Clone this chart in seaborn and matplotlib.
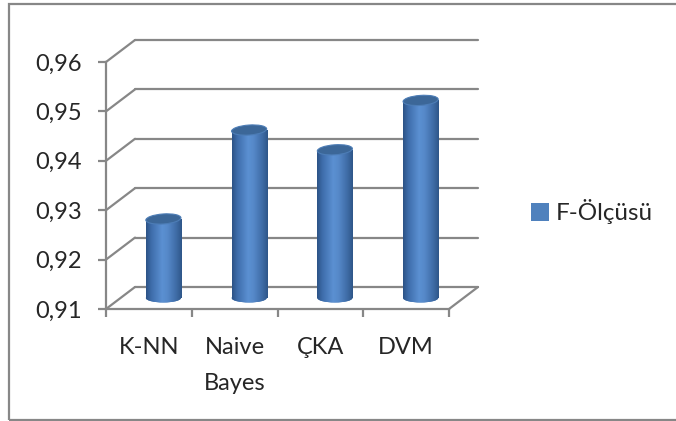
import numpy as np
import matplotlib
matplotlib.use("Agg")
import matplotlib.pyplot as plt
import matplotlib.transforms as mtransforms
from matplotlib.patches import Ellipse, Rectangle, Patch
from matplotlib.lines import Line2D
from matplotlib.colors import LinearSegmentedColormap
import seaborn as sns

# ---- data -------------------------------------------------------------
methods = ["K-NN", "Naive\nBayes", "ÇKA", "DVM"]
f_scores = [0.926, 0.944, 0.940, 0.950]
y_ticks = [0.91, 0.92, 0.93, 0.94, 0.95, 0.96]
y_tick_labels = ["0,91", "0,92", "0,93", "0,94", "0,95", "0,96"]
series_name = "F-Ölçüsü"

# ---- style ------------------------------------------------------------
sns.set_style("white")
plt.rcParams["font.family"] = ["Lato", "DejaVu Sans"]
FS = 17
GREY = "#878787"
BLUE = "#4f81bd"

W, H, DPI = 676, 421, 100
fig = plt.figure(figsize=(W / DPI, H / DPI), dpi=DPI)

# front plane of the 3-D box (pixels from top-left)
px0, px1, py0, py1 = 106, 449, 62, 309
ax = fig.add_axes([px0 / W, 1 - py1 / H, (px1 - px0) / W, (py1 - py0) / H])
ax.patch.set_alpha(0)

floor, ceil = y_ticks[0], y_ticks[-1]
n = len(methods)
bar_w = 0.41

sns.barplot(x=methods, y=f_scores, ax=ax, width=bar_w, color=BLUE,
            saturation=1, edgecolor="none", zorder=3)
ax.set_xlim(-0.5, n - 0.5)
ax.set_ylim(floor, ceil)
ax.set_xlabel("")
ax.set_ylabel("")

# depth offsets (display pixels): back wall and the mid plane of the bars
DX, DY = 29, 22
back = ax.transData + mtransforms.Affine2D().translate(DX, DY)
mid = ax.transData + mtransforms.Affine2D().translate(DX / 2, DY / 2)
ident = mtransforms.IdentityTransform()

# back wall gridlines and the left wall edges
for v in y_ticks:
    ax.add_line(Line2D([-0.5, n - 0.5], [v, v], transform=back, color=GREY,
                       lw=1.6, clip_on=False, zorder=1))
    (fx, fy), (bx, by) = ax.transData.transform((-0.5, v)), back.transform((-0.5, v))
    ax.add_line(Line2D([fx, bx], [fy, by], transform=ident, color=GREY,
                       lw=1.6, clip_on=False, zorder=1))
# right edge of the floor
(fx, fy), (bx, by) = ax.transData.transform((n - 0.5, floor)), back.transform((n - 0.5, floor))
ax.add_line(Line2D([fx, bx], [fy, by], transform=ident, color=GREY,
                   lw=1.6, clip_on=False, zorder=1))

# spines / ticks of the front plane
for side in ("top", "right"):
    ax.spines[side].set_visible(False)
for side in ("left", "bottom"):
    ax.spines[side].set_color(GREY)
    ax.spines[side].set_linewidth(1.6)

ax.set_yticks(y_ticks)
ax.set_yticklabels(y_tick_labels)
ax.set_xticks(np.arange(n + 1) - 0.5)
ax.set_xticklabels([])
ax.set_xticks(np.arange(n), minor=True)
ax.set_xticklabels(methods, minor=True, linespacing=1.9)
ax.tick_params(axis="y", which="major", length=6, width=1.6, color=GREY,
               labelsize=FS, pad=11.5, left=True)
ax.tick_params(axis="x", which="major", length=6, width=1.6, color=GREY,
               bottom=True, labelbottom=False)
ax.tick_params(axis="x", which="minor", length=0, labelsize=FS, pad=20)

# ---- cylinders --------------------------------------------------------
shade = LinearSegmentedColormap.from_list(
    "cyl", [(0.0, "#2c5285"), (0.15, "#3e6dab"), (0.45, "#5b90d2"),
            (0.6, "#5689c9"), (0.85, "#3e6ba5"), (1.0, "#2e5688")])
grad = shade(np.linspace(0, 1, 256))[None, :, :]

sx = ax.transData.transform((1, 0))[0] - ax.transData.transform((0, 0))[0]
sy = ax.transData.transform((0, 1))[1] - ax.transData.transform((0, 0))[1]
ew = bar_w * sx          # ellipse width in pixels
eh = 9.0                 # ellipse height in pixels
eh_d = eh / sy

bars = list(ax.patches)
for i, (p, v) in enumerate(zip(bars, f_scores)):
    xc = p.get_x() + p.get_width() / 2
    p.set_y(floor)
    p.set_height(v - floor)
    p.set_transform(mid)
    p.set_clip_on(False)

    # rounded base
    cx, cy = mid.transform((xc, floor))
    base = Ellipse((cx, cy), ew, eh, transform=ident, fc=BLUE, ec="none",
                   zorder=2.5, clip_on=False)
    ax.add_patch(base)
    im = ax.imshow(grad, extent=(xc - bar_w / 2, xc + bar_w / 2, floor - eh_d, floor + eh_d),
                   transform=mid, aspect="auto", zorder=2.6, interpolation="bilinear")
    im.set_clip_path(base)

    # shaded body
    im = ax.imshow(grad, extent=(xc - bar_w / 2, xc + bar_w / 2, floor, v),
                   transform=mid, aspect="auto", zorder=3.5, interpolation="bilinear")
    im.set_clip_path(p)

    # top cap
    tx, ty = mid.transform((xc, v))
    ax.add_patch(Ellipse((tx, ty), ew, eh + 1, angle=4, transform=ident,
                         fc="#3c6798", ec="#4d7db6", lw=0.8, zorder=4, clip_on=False))

ax.set_xlim(-0.5, n - 0.5)
ax.set_ylim(floor, ceil)

# ---- legend -----------------------------------------------------------
fig.legend(handles=[Patch(fc=BLUE, ec="none", label=series_name)],
           loc="center left", bbox_to_anchor=(531 / W, 1 - 212 / H),
           frameon=False, fontsize=17.5, borderpad=0, borderaxespad=0,
           handlelength=0.72, handleheight=0.72, handletextpad=0.3)

# chart-area border
fig.add_artist(Rectangle((9 / W, 1 - 420 / H), 1.0, (420 - 4) / H,
                         transform=fig.transFigure, fill=False, ec=GREY, lw=1.6))

fig.savefig("out.png", dpi=DPI)
